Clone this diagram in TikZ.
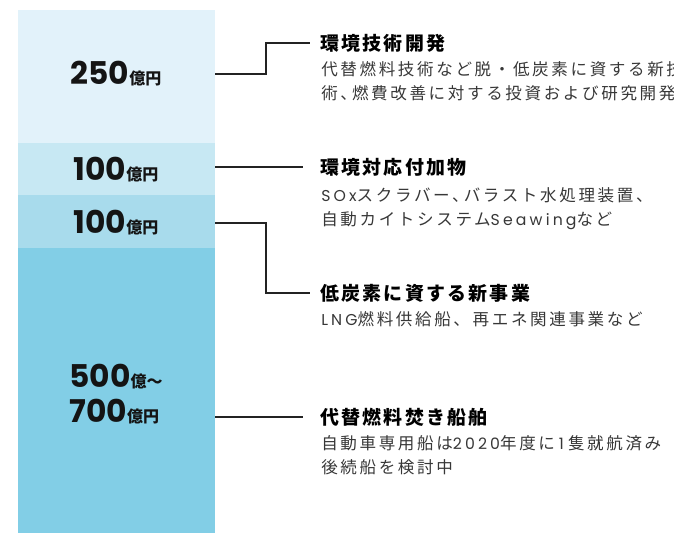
\documentclass[tikz,border=0pt]{standalone}
\usepackage{fontspec}
\setmainfont{Noto Sans CJK JP}
\newfontfamily\numfont{Poppins}
\newfontfamily\latfont{Poppins}[LetterSpace=20,Scale=0.95]
\usetikzlibrary{positioning}
\definecolor{segA}{RGB}{226,242,250}
\definecolor{segB}{RGB}{199,232,243}
\definecolor{segC}{RGB}{168,219,236}
\definecolor{segD}{RGB}{130,206,230}
\definecolor{linecol}{RGB}{35,35,35}
\definecolor{bodycol}{RGB}{55,55,55}
\newcommand{\amt}[2]{{\numfont\bfseries\fontsize{23.5}{26}\selectfont #1}{\bfseries\fontsize{12}{12}\selectfont #2}}
\newcommand{\ten}{、\kern-0.3em}
\tikzset{
  amount/.style={inner sep=0pt,text=black!92},
  title/.style={anchor=west,inner xsep=7.5pt,inner ysep=0pt,font=\bfseries\fontsize{14.2}{16}\selectfont\addfontfeature{LetterSpace=12}},
  body/.style={anchor=north west,inner sep=0pt,align=left,text=bodycol,font=\fontsize{12.4}{18}\selectfont\addfontfeature{LetterSpace=16}},
  conn/.style={draw=linecol,line width=0.9pt}
}
\begin{document}
\begin{tikzpicture}[x=0.75pt,y=-0.75pt]
\clip(0,0)rectangle(674,533);
%bar
\fill[segA](18,10)rectangle(215,143);
\fill[segB](18,143)rectangle(215,195);
\fill[segC](18,195)rectangle(215,248);
\fill[segD](18,248)rectangle(215,533);
\coordinate(barR)at(215,0);
%amounts
\node[amount](amt1)at(116,74){\amt{250}{億円}};
\node[amount](amt2)at(116,170){\amt{100}{億円}};
\node[amount](amt3)at(116,223){\amt{100}{億円}};
\node[amount,align=left,font=\fontsize{12}{26.25}\selectfont](amt4)at(116,394){\amt{500}{億～}\\\amt{700}{億円}};
%titles
\node[title](t1)at(310,43){環境技術開発};
\node[title](t2)at(310,167){環境対応付加物};
\node[title](t3)at(310,293){低炭素に資する新事業};
\node[title](t4)at(310,417){代替燃料焚き船舶};
\node[body](b1)at(321,61){代替燃料技術など脱・低炭素に資する新技\\術\ten 燃費改善に対する投資および研究開発};
\node[body](b2)at(321,187){{\latfont SOx}スクラバー\ten バラスト水処理装置\ten\\自動カイトシステム{\latfont Seawing}など};
\node[body](b3)at(321,311){{\latfont LNG}燃料供給船、再エネ関連事業など};
\node[body](b4)at(321,435){自動車専用船は{\latfont 2020}年度に\kern3pt{\latfont 1}\kern3pt 隻就航済み\\後続船を検討中};
%lines
\draw[conn](barR|-amt1)--++(51,0)|-(t1.west);
\draw[conn](barR|-t2.west)--([xshift=-5.25pt]t2.west);
\draw[conn](barR|-amt3)--++(51,0)|-(t3.west);
\draw[conn](barR|-t4.west)--([xshift=-5.25pt]t4.west);
\end{tikzpicture}
\end{document}
